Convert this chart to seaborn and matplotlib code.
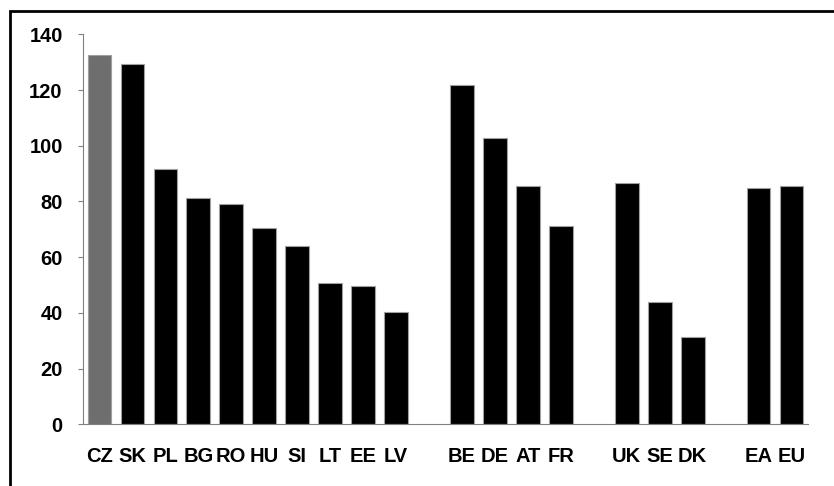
import pandas as pd
import matplotlib.pyplot as plt
import seaborn as sns

countries = ["CZ", "SK", "PL", "BG", "RO", "HU", "SI", "LT", "EE", "LV",
             "BE", "DE", "AT", "FR", "UK", "SE", "DK", "EA", "EU"]
values = [132.4, 129.4, 91.7, 81.1, 79.1, 70.6, 64.1, 50.8, 49.5, 40.3,
          121.7, 102.9, 85.6, 71.3, 86.5, 44.0, 31.4, 84.7, 85.6]
# empty slots between the groups
order = ["CZ", "SK", "PL", "BG", "RO", "HU", "SI", "LT", "EE", "LV", " ",
         "BE", "DE", "AT", "FR", "  ",
         "UK", "SE", "DK", "   ",
         "EA", "EU"]
highlight = "CZ"

df = pd.DataFrame({"country": countries, "value": values})

sns.set_theme(style="white")
plt.rcParams["font.family"] = ["Liberation Sans", "DejaVu Sans"]
plt.rcParams["font.weight"] = "bold"

fig = plt.figure(figsize=(8.34, 4.86), dpi=100)
ax = fig.add_axes([83 / 834, 1 - 424.3 / 486, (808 - 83) / 834, 390 / 486])

colors = {c: ("#6e6e6e" if c == highlight else "black") for c in countries}
sns.barplot(data=df, x="country", y="value", order=order, hue="country",
            palette=colors, legend=False, width=0.72, edgecolor="#a0a0a0",
            linewidth=0.8, saturation=1, ax=ax)

ax.set_xlim(-0.5, len(order) - 0.5)
ax.set_ylim(0, 140)
ax.set_yticks(range(0, 141, 20))
ax.set_xlabel("")
ax.set_ylabel("")
ax.tick_params(axis="y", length=3.6, width=0.8, color="#808080", pad=11,
               labelsize=14.5, left=True)
ax.tick_params(axis="x", length=0, pad=16, labelsize=14.5)
for lab in ax.get_xticklabels() + ax.get_yticklabels():
    lab.set_fontweight("bold")
    lab.set_color("black")

for side in ["top", "right"]:
    ax.spines[side].set_visible(False)
for side in ["left", "bottom"]:
    ax.spines[side].set_color("#808080")
    ax.spines[side].set_linewidth(0.8)

# outer frame (cut off at right and bottom)
frame = plt.Rectangle((10 / 834, -0.1), 1.0, 1.1 - 11 / 486, transform=fig.transFigure,
                      fill=False, edgecolor="black", linewidth=2, clip_on=False)
fig.patches.append(frame)

fig.savefig("out.png", dpi=100)
